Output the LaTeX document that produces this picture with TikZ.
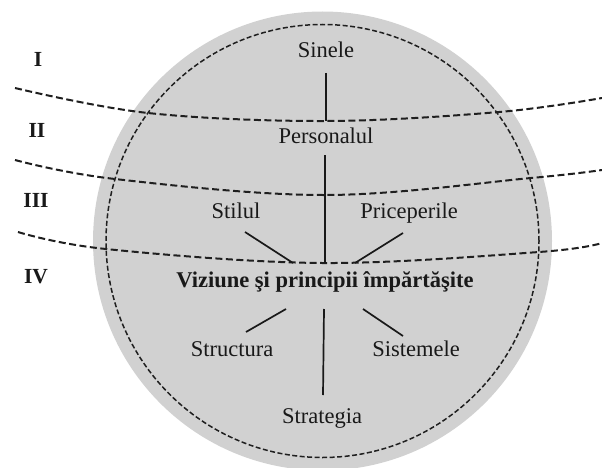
\documentclass[tikz,border=0pt]{standalone}
\usepackage{fontspec}
\setmainfont{Liberation Serif}
\begin{document}
\begin{tikzpicture}[x=1pt,y=-1pt,
  lbl/.style={font=\fontsize{22.5}{24}\selectfont, inner sep=0pt, anchor=base, text=black!90},
  boldlbl/.style={font=\fontsize{22.5}{24}\selectfont\bfseries, inner sep=0pt, anchor=base, text=black!90},
  num/.style={font=\fontsize{21.5}{24}\selectfont\bfseries, inner sep=0pt, anchor=base, text=black!90},
  zone/.style={dash pattern=on 7pt off 3.5pt, line width=2pt, draw=black!88},
  rim/.style={dash pattern=on 5pt off 2.5pt, line width=1.5pt, draw=black!88},
  link/.style={line width=1.7pt, draw=black!90}]
\useasboundingbox (0,0) rectangle (602,468);
% gray disc and dashed rim
\fill[black!18] (322.5,241) circle[radius=229.5pt];
\draw[rim] (322.5,241) circle[radius=216.5pt];
% zone boundaries
\draw[zone] plot[smooth, tension=0.6] coordinates {(15,88) (148,113) (326,121) (499,112) (602,98)};
\draw[zone] plot[smooth, tension=0.6] coordinates {(15,160) (115,179) (326,195) (531,178) (602,170)};
\draw[zone] plot[smooth, tension=0.6] coordinates {(18,232) (106,249) (322,263) (539,252) (602,243)};
% zone numerals
\node[num] (z1) at (38,67) {I};
\node[num] (z2) at (37,138) {II};
\node[num] (z3) at (36,207) {III};
\node[num] (z4) at (36,283) {IV};
% labels
\node[lbl] (sinele) at (326,58) {Sinele};
\node[lbl] (personalul) at (326,143) {Personalul};
\node[lbl] (stilul) at (236,218) {Stilul};
\node[lbl] (priceperile) at (409,218) {Priceperile};
\node[boldlbl] (viz) at (325,287) {Viziune şi principii împărtăşite};
\node[lbl] (structura) at (232,356) {Structura};
\node[lbl] (sistemele) at (416,356) {Sistemele};
\node[lbl] (strategia) at (322,423) {Strategia};
% free ends on the zone boundaries
\coordinate (c1) at (326,121);
\coordinate (c2) at (325,263);
% connectors
\draw[link] ([yshift=-15pt]sinele.base) -- (c1);
\draw[link] ([yshift=-12pt]personalul.base -| c2) -- (c2);
\draw[link] ([xshift=9pt,yshift=-14pt]stilul.base) -- ([xshift=-32pt,yshift=24pt]viz.base);
\draw[link] ([xshift=-6pt,yshift=-15pt]priceperile.base) -- ([xshift=30pt,yshift=24pt]viz.base);
\draw[link] ([xshift=-1pt,yshift=-22pt]viz.base) -- ([xshift=1pt,yshift=28pt]strategia.base);
\draw[link] ([xshift=-39pt,yshift=-22pt]viz.base) -- ([xshift=14pt,yshift=24pt]structura.base);
\draw[link] ([xshift=38pt,yshift=-22pt]viz.base) -- ([xshift=-13pt,yshift=20pt]sistemele.base);
\end{tikzpicture}
\end{document}
